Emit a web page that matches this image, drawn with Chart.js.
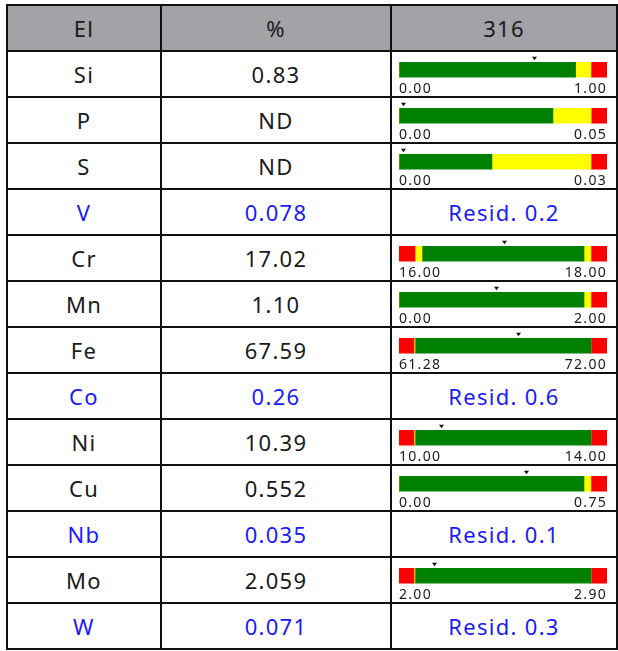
<!DOCTYPE html>
<html>
<head>
<meta charset="utf-8">
<script src="https://cdn.jsdelivr.net/npm/chart.js@4.4.0/dist/chart.umd.min.js"></script>
<style>
    body { margin: 0; background: #fff; width: 618px; height: 651px; overflow: hidden; }
    #tbl {
        position: absolute; left: 6px; top: 4px;
        border-collapse: collapse; table-layout: fixed; width: 612px;
        font-family: "Noto Sans", sans-serif; font-size: 22px; color: #1a1a1a;
    }
    #tbl td, #tbl th {
        border: 2px solid #111; padding: 0; text-align: center;
        line-height: 44px; height: 44px; font-weight: normal; letter-spacing: 1.3px;
        white-space: nowrap; overflow: hidden;
    }
    #tbl th { background: #a3a2a7; }
    #tbl tr.resid td { color: #1a1aff; }
    .gauge { position: relative; height: 44px; width: 224px; }
</style>
</head>
<body>
<table id="tbl">
    <colgroup><col style="width:154px"><col style="width:230px"><col style="width:226px"></colgroup>
    <thead><tr><th>El</th><th>%</th><th id="alloyName"></th></tr></thead>
    <tbody id="rows"></tbody>
</table>
<script>
// العمود الأول والثاني
const alloy = '316';
const elements = ['Si', 'P', 'S', 'V', 'Cr', 'Mn', 'Fe', 'Co', 'Ni', 'Cu', 'Nb', 'Mo', 'W'];
const percents = ['0.83', 'ND', 'ND', '0.078', '17.02', '1.10', '67.59', '0.26', '10.39', '0.552', '0.035', '2.059', '0.071'];
const residuals = [null, null, null, '0.2', null, null, null, '0.6', null, null, '0.1', null, '0.3'];

// حدود المقياس لكل عنصر
const gaugeMin = [0.00, 0.00, 0.00, null, 16.00, 0.00, 61.28, null, 10.00, 0.00, null, 2.00, null];
const gaugeMax = [1.00, 0.05, 0.03, null, 18.00, 2.00, 72.00, null, 14.00, 0.75, null, 2.90, null];
const lowRedEnd = [0.00, 0.00, 0.00, null, 16.154, 0.00, 62.053, null, 10.288, 0.00, null, 2.065, null];
const greenStart = [0.00, 0.00, 0.00, null, 16.221, 0.00, 62.105, null, 10.308, 0.00, null, 2.069, null];
const greenEnd = [0.849, 0.037, 0.0134, null, 17.779, 1.779, 71.175, null, 13.692, 0.667, null, 2.831, null];
const highRedStart = [0.923, 0.0462, 0.0277, null, 17.846, 1.846, 71.175, null, 13.692, 0.692, null, 2.831, null];
const markers = [0.65, 0.001, 0.0006, null, 17.006, 0.933, 67.43, null, 10.81, 0.458, null, 2.15, null];

const RED = '#ff0000', YELLOW = '#ffff00', GREEN = '#008000';

document.getElementById('alloyName').textContent = alloy;

// رسم المؤشر المثلث فوق الشريط
const markerPlugin = {
    id: 'marker',
    afterDatasetsDraw(chart, args, opts) {
        const ctx = chart.ctx;
        const bar = chart.getDatasetMeta(2).data[0];
        const x = Math.round(chart.scales.x.getPixelForValue(opts.value)) + 0.5;
        const top = bar.y - bar.height / 2;
        ctx.save();
        ctx.fillStyle = '#111';
        ctx.beginPath();
        ctx.moveTo(x - 2.5, top - 5);
        ctx.lineTo(x + 2.5, top - 5);
        ctx.lineTo(x, top - 1.5);
        ctx.closePath();
        ctx.fill();
        ctx.restore();
    }
};

function buildGauge(canvas, i) {
    const segments = [
        [gaugeMin[i], lowRedEnd[i], RED],
        [lowRedEnd[i], greenStart[i], YELLOW],
        [greenStart[i], greenEnd[i], GREEN],
        [greenEnd[i], highRedStart[i], YELLOW],
        [highRedStart[i], gaugeMax[i], RED]
    ];
    new Chart(canvas.getContext('2d'), {
        type: 'bar',
        data: {
            labels: [elements[i]],
            datasets: segments.map(s => ({
                data: [[s[0], s[1]]],
                backgroundColor: s[2],
                borderWidth: 0,
                barThickness: 16,
                grouped: false
            }))
        },
        options: {
            indexAxis: 'y',
            responsive: true,
            maintainAspectRatio: false,
            devicePixelRatio: 1,
            animation: false,
            events: [],
            layout: { padding: { left: 7, right: 9, top: 10, bottom: 3 } },
            scales: {
                x: {
                    min: gaugeMin[i],
                    max: gaugeMax[i],
                    afterBuildTicks: scale => {
                        scale.ticks = [{ value: gaugeMin[i] }, { value: gaugeMax[i] }];
                    },
                    grid: { display: false, drawTicks: false },
                    border: { display: false },
                    ticks: {
                        align: 'inner',
                        padding: 3,
                        color: '#1a1a1a',
                        font: { family: 'Noto Sans', size: 14 },
                        maxRotation: 0,
                        autoSkip: false,
                        callback: v => Number(v).toFixed(2)
                    }
                },
                y: { display: false }
            },
            plugins: {
                legend: { display: false },
                tooltip: { enabled: false },
                marker: { value: markers[i] }
            }
        },
        plugins: [markerPlugin]
    });
}

const tbody = document.getElementById('rows');
elements.forEach((el, i) => {
    const tr = document.createElement('tr');
    if (residuals[i] !== null) tr.className = 'resid';
    const c1 = document.createElement('td');
    c1.textContent = el;
    const c2 = document.createElement('td');
    c2.textContent = percents[i];
    const c3 = document.createElement('td');
    tr.append(c1, c2, c3);
    tbody.appendChild(tr);
    if (residuals[i] !== null) {
        c3.textContent = 'Resid. ' + residuals[i];
    } else {
        const box = document.createElement('div');
        box.className = 'gauge';
        const canvas = document.createElement('canvas');
        box.appendChild(canvas);
        c3.appendChild(box);
        buildGauge(canvas, i);
    }
});
</script>
</body>
</html>
